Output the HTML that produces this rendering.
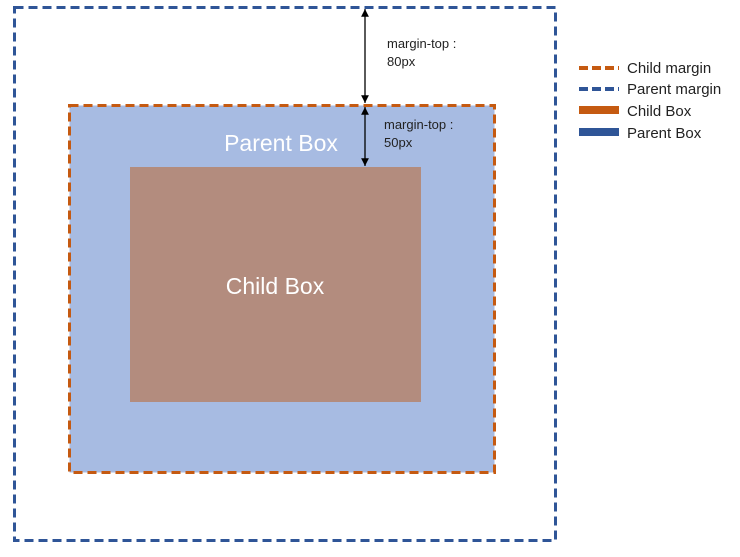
<!DOCTYPE html>
<html><head><style>body{margin:0;background:#fff}svg{display:block}text{font-family:"Liberation Sans","Noto Sans CJK KR",sans-serif}</style></head>
<body>
<svg width="740" height="557" viewBox="0 0 740 557" xmlns="http://www.w3.org/2000/svg">
<defs><marker id="a" viewBox="0 0 10 10" refX="10" refY="5" markerWidth="6" markerHeight="6" orient="auto-start-reverse"><path d="M0,0L10,5L0,10z" fill="#000"/></marker></defs>
<rect x="14.5" y="7.5" width="541" height="533" fill="none" stroke="#2F5597" stroke-width="3" stroke-dasharray="9,5"/>
<rect x="69.5" y="105.5" width="425" height="367" fill="#A7BBE2" stroke="#C55A11" stroke-width="3" stroke-dasharray="9,5"/>
<rect x="130" y="167" width="291" height="235" fill="#B38C7E"/>
<text x="281" y="151" font-size="23" fill="#fff" text-anchor="middle">Parent Box</text>
<text x="275" y="294" font-size="23" fill="#fff" text-anchor="middle">Child Box</text>
<line x1="365" y1="9" x2="365" y2="103" stroke="#000" stroke-width="1.3" marker-start="url(#a)" marker-end="url(#a)"/>
<line x1="365" y1="107" x2="365" y2="166" stroke="#000" stroke-width="1.3" marker-start="url(#a)" marker-end="url(#a)"/>
<text x="387" y="48" font-size="13" fill="#222">margin-top :</text>
<text x="387" y="66" font-size="13" fill="#222">80px</text>
<text x="384" y="129" font-size="13" fill="#222">margin-top :</text>
<text x="384" y="147" font-size="13" fill="#222">50px</text>
<line x1="579" y1="68" x2="619" y2="68" stroke="#C55A11" stroke-width="4" stroke-dasharray="9,4"/>
<line x1="579" y1="89" x2="619" y2="89" stroke="#2F5597" stroke-width="4" stroke-dasharray="9,4"/>
<rect x="579" y="106" width="40" height="8" fill="#C55A11"/>
<rect x="579" y="128" width="40" height="8" fill="#2F5597"/>
<text x="627" y="73" font-size="15" fill="#222">Child margin</text>
<text x="627" y="94" font-size="15" fill="#222">Parent margin</text>
<text x="627" y="116" font-size="15" fill="#222">Child Box</text>
<text x="627" y="138" font-size="15" fill="#222">Parent Box</text>
</svg>
</body></html>
